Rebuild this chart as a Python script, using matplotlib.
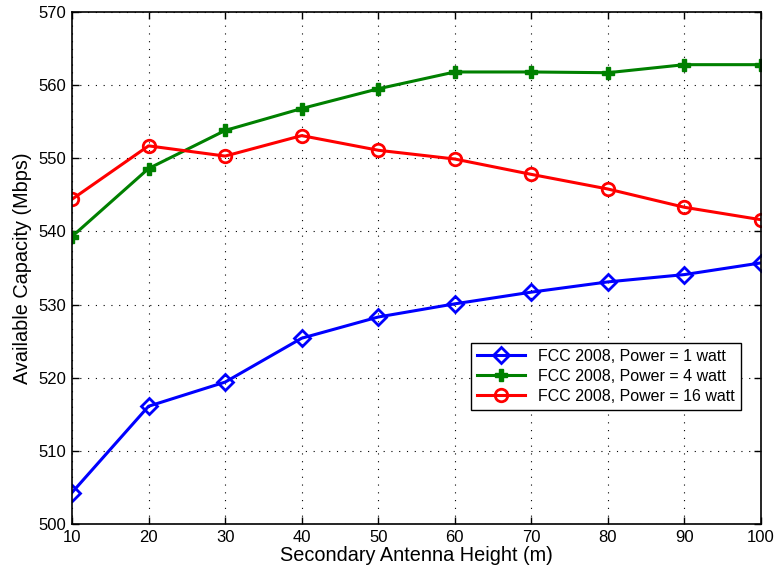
import matplotlib
matplotlib.use("Agg")
import matplotlib.pyplot as plt

heights = [10, 20, 30, 40, 50, 60, 70, 80, 90, 100]
power_1w = [504.3, 516.1, 519.4, 525.4, 528.3, 530.1, 531.7, 533.1, 534.1, 535.7]
power_4w = [539.3, 548.6, 553.8, 556.8, 559.5, 561.8, 561.8, 561.7, 562.8, 562.8]
power_16w = [544.4, 551.7, 550.3, 553.1, 551.1, 549.9, 547.8, 545.8, 543.3, 541.6]
labels = ["FCC 2008, Power = 1 watt", "FCC 2008, Power = 4 watt", "FCC 2008, Power = 16 watt"]

plt.rcParams['font.family'] = ['Liberation Sans', 'DejaVu Sans']

fig = plt.figure(figsize=(7.77, 5.72), dpi=100)
ax = fig.add_axes([72/777, 1-524/572, (761-72)/777, (524-12)/572])

ax.plot(heights, power_1w, color='#0000ff', lw=2.2, marker='D', markersize=8,
        markerfacecolor='none', markeredgewidth=2, label=labels[0])
ax.plot(heights, power_4w, color='#008000', lw=2.2, marker='P', markersize=8,
        markeredgewidth=1, label=labels[1])
ax.plot(heights, power_16w, color='#ff0000', lw=2.2, marker='o', markersize=9,
        markerfacecolor='none', markeredgewidth=2, label=labels[2])

ax.set_xlim(10, 100)
ax.set_ylim(500, 570)
ax.set_xticks(heights)
ax.set_yticks(range(500, 571, 10))
ax.tick_params(direction='in', top=True, right=True, labelsize=12, length=5, width=1, pad=4)
ax.grid(True, linestyle=(0, (1, 6)), color='black', linewidth=0.8)
for s in ax.spines.values():
    s.set_linewidth(1.2)
ax.set_xlabel("Secondary Antenna Height (m)", fontsize=14.3, labelpad=1)
ax.set_ylabel("Available Capacity (Mbps)", fontsize=14.3, labelpad=5)

leg = ax.legend(loc='lower left', bbox_to_anchor=((463-72)/689, (524-418)/512),
                fontsize=11.5, fancybox=False, edgecolor='black', framealpha=1,
                handlelength=3, borderpad=0.4, labelspacing=0.3)
leg.get_frame().set_linewidth(1)

fig.savefig("out.png", dpi=100)
